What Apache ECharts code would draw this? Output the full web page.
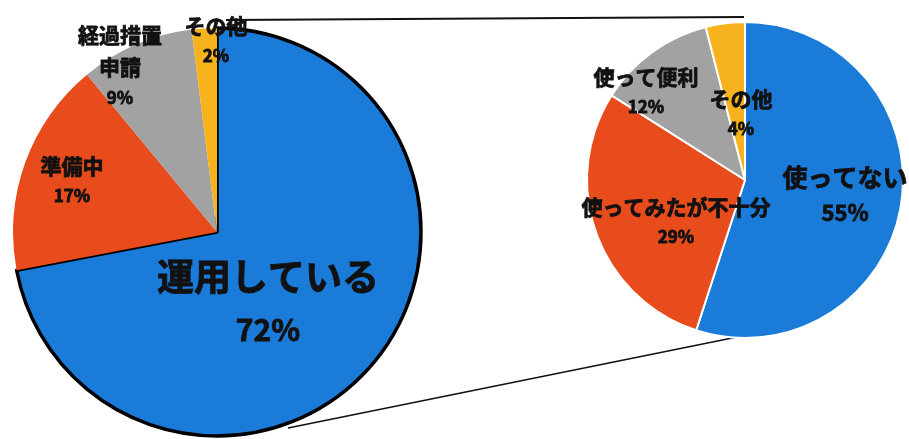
<!DOCTYPE html>
<html>
<head>
<meta charset="utf-8">
<script src="https://cdn.jsdelivr.net/npm/echarts@6/dist/echarts.min.js"></script>
<style>
  html, body { margin: 0; padding: 0; background: #fff; }
  #chart { width: 909px; height: 439px; }
</style>
</head>
<body>
<div id="chart"></div>
<script>
// 運用状況 (left pie)
const statusNames = ['運用している', '準備中', '経過措置\n申請', 'その他'];
const statusValues = [72, 17, 9, 2];

// 利用実態 (right pie, breakdown of 運用している)
const usageNames = ['使ってない', '使ってみたが不十分', '使って便利', 'その他'];
const usageValues = [55, 29, 12, 4];

const colors = ['#1b7bd9', '#e84c1c', '#a2a2a2', '#f6b31d'];
const FONT = '"Noto Sans CJK JP", "Noto Sans", sans-serif';

// label placement per slice
const leftLabelPos = [[268, 303], [72, 181], [120, 66], [216, 41]];
const rightLabelPos = [[845, 195], [676, 222], [646, 92], [741, 114]];

function richFor(nameSize, pctSize, nameLH, pctLH) {
  const base = { fontFamily: FONT, fontWeight: 'bold', color: '#111', textBorderColor: '#111', textBorderWidth: 0.8 };
  return {
    n: Object.assign({ fontSize: nameSize, lineHeight: nameLH }, base),
    p: Object.assign({ fontSize: pctSize, lineHeight: pctLH }, base)
  };
}

function labelText(p) {
  return p.name.split('\n').map(s => '{n|' + s + '}').join('\n') + '\n{p|' + p.value + '%}';
}

const leftData = statusNames.map((name, i) => ({
  name: name,
  value: statusValues[i],
  itemStyle: i === 0
    ? { color: colors[i], borderColor: '#000', borderWidth: 3.5 }
    : { color: colors[i], borderWidth: 0 },
  label: {
    rich: i === 0 ? richFor(37, 30, 53, 53)
         : i === 2 ? richFor(21, 17, 32, 30)
         : richFor(21, 17, 30, 30)
  }
}));

const rightData = usageNames.map((name, i) => ({
  name: name,
  value: usageValues[i],
  itemStyle: { color: colors[i] },
  label: {
    rich: i === 0 ? richFor(25, 22, 36, 36) : richFor(21, 17, 30, 30)
  }
}));

const chart = echarts.init(document.getElementById('chart'), null, { renderer: 'canvas' });

chart.setOption({
  animation: false,
  backgroundColor: '#fff',
  graphic: [
    { type: 'line', shape: { x1: 226, y1: 20, x2: 744, y2: 17 }, style: { stroke: '#111', lineWidth: 2 }, z: 1 },
    { type: 'line', shape: { x1: 288, y1: 428, x2: 747, y2: 335 }, style: { stroke: '#111', lineWidth: 1.5 }, z: 1 }
  ],
  series: [
    {
      type: 'pie',
      center: [217, 232],
      radius: [0, 204],
      startAngle: 90,
      clockwise: true,
      avoidLabelOverlap: false,
      label: { show: true, position: 'inside', formatter: labelText },
      labelLine: { show: false },
      labelLayout: p => ({ x: leftLabelPos[p.dataIndex][0], y: leftLabelPos[p.dataIndex][1], align: 'center', verticalAlign: 'middle' }),
      emphasis: { disabled: true },
      data: leftData,
      z: 3
    },
    {
      type: 'pie',
      center: [745, 180],
      radius: [0, 158],
      startAngle: 90,
      clockwise: true,
      avoidLabelOverlap: false,
      itemStyle: { borderColor: '#fff', borderWidth: 2 },
      label: { show: true, position: 'inside', formatter: labelText },
      labelLine: { show: false },
      labelLayout: p => ({ x: rightLabelPos[p.dataIndex][0], y: rightLabelPos[p.dataIndex][1], align: 'center', verticalAlign: 'middle' }),
      emphasis: { disabled: true },
      data: rightData,
      z: 3
    }
  ]
});
</script>
</body>
</html>
